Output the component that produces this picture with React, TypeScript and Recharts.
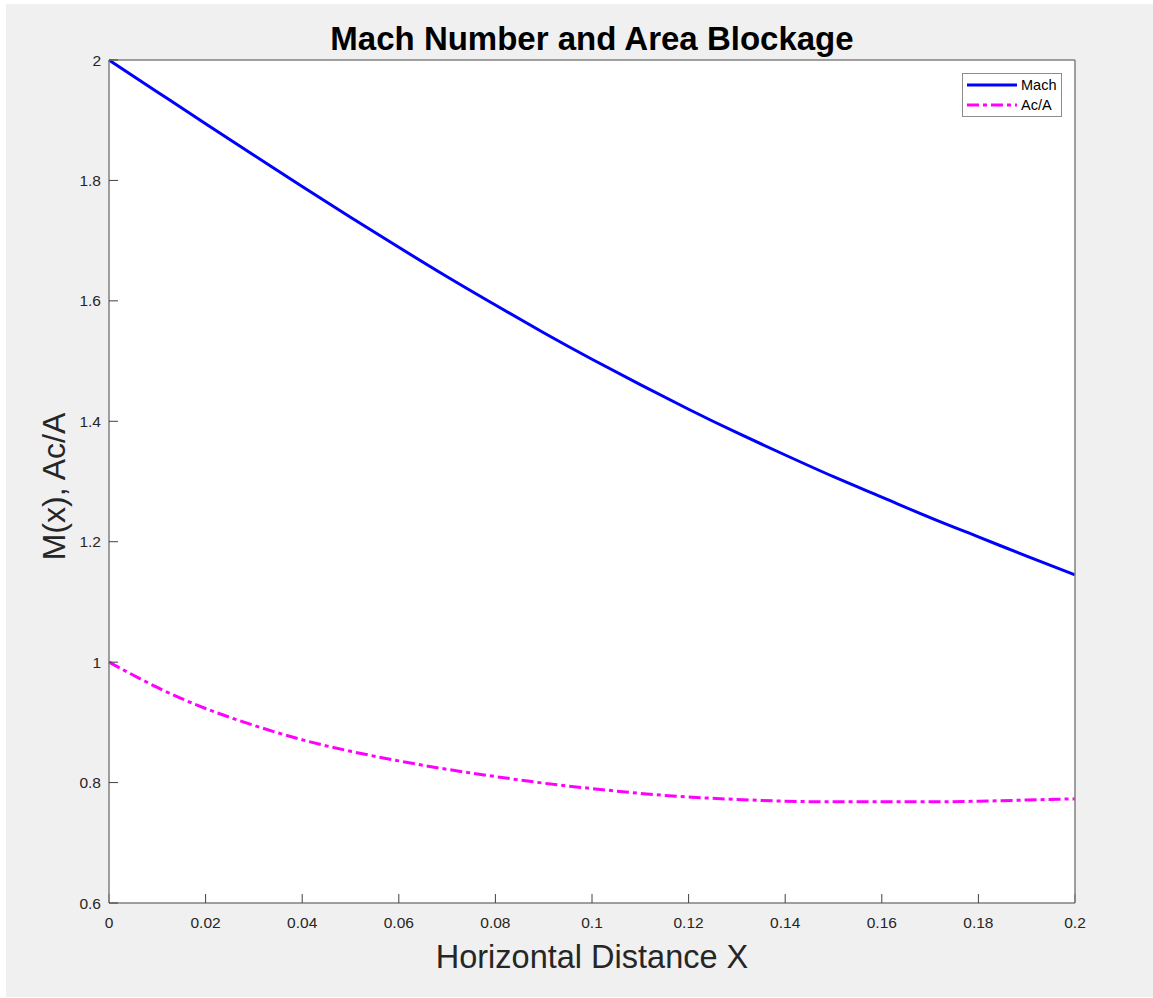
import { LineChart, Line, XAxis, YAxis, ReferenceArea, Legend } from "recharts";

const FONT = '"Liberation Sans", Arial, Helvetica, sans-serif';

// horizontal distance samples
const xs = [
  0, 0.01, 0.02, 0.03, 0.04, 0.05, 0.06, 0.07, 0.08, 0.09, 0.1, 0.11, 0.12,
  0.13, 0.14, 0.15, 0.16, 0.17, 0.18, 0.19, 0.2,
];

// M(x)
const machValues = [
  2.0, 1.947, 1.894, 1.842, 1.79, 1.739, 1.689, 1.64, 1.593, 1.547, 1.503,
  1.461, 1.42, 1.381, 1.344, 1.308, 1.274, 1.24, 1.208, 1.176, 1.145,
];

// Ac/A
const areaRatio = [
  1.0, 0.958, 0.923, 0.895, 0.871, 0.852, 0.836, 0.822, 0.81, 0.799, 0.79,
  0.782, 0.776, 0.772, 0.769, 0.768, 0.768, 0.768, 0.769, 0.771, 0.773,
];

const xTicks = [0, 0.02, 0.04, 0.06, 0.08, 0.1, 0.12, 0.14, 0.16, 0.18, 0.2];
const yTicks = [0.6, 0.8, 1, 1.2, 1.4, 1.6, 1.8, 2];

// legend order as plotted
const seriesOrder = ["Mach", "Ac/A"];

const data = xs.map((x, i) => ({ x, mach: machValues[i], acA: areaRatio[i] }));

const AXIS = { stroke: "#808080", strokeWidth: 1.5 };
const TICKLINE = { stroke: "#404040", strokeWidth: 1 };
const TICK = { fill: "#262626", fontSize: 15.5, fontFamily: FONT };

function TitleLabel(props: any) {
  const vb = props.viewBox ?? { x: 109, y: 59, width: 966, height: 1 };
  return (
    <text
      x={vb.x + vb.width / 2}
      y={50}
      textAnchor="middle"
      fontFamily={FONT}
      fontWeight="bold"
      fontSize={33}
      fill="#000"
    >
      Mach Number and Area Blockage
    </text>
  );
}

function XLabel(props: any) {
  const vb = props.viewBox ?? { x: 109, y: 903, width: 966, height: 95 };
  return (
    <text
      x={vb.x + vb.width / 2}
      y={vb.y + 65}
      textAnchor="middle"
      fontFamily={FONT}
      fontSize={32.5}
      fill="#262626"
    >
      Horizontal Distance X
    </text>
  );
}

function YLabel(props: any) {
  const vb = props.viewBox ?? { x: 0, y: 60, width: 109, height: 843 };
  const cx = vb.x + 65;
  const cy = vb.y + vb.height / 2 + 5;
  return (
    <text
      x={cx}
      y={cy}
      transform={`rotate(-90 ${cx} ${cy})`}
      textAnchor="middle"
      fontFamily={FONT}
      fontSize={32}
      fill="#262626"
    >
      M(x), Ac/A
    </text>
  );
}

function LegendBox(props: any) {
  const items = [...(props.payload ?? [])].sort(
    (a: any, b: any) => seriesOrder.indexOf(a.value) - seriesOrder.indexOf(b.value)
  );
  return (
    <div
      style={{
        width: 100,
        height: 44,
        boxSizing: "border-box",
        border: "1px solid #8c8c8c",
        background: "#fff",
        padding: "1px 0 0 3px",
      }}
    >
      {items.map((p: any) => (
        <div
          key={p.value}
          style={{ display: "flex", alignItems: "center", height: 20 }}
        >
          <svg width={52} height={10}>
            <line
              x1={1}
              x2={51}
              y1={5}
              y2={5}
              stroke={p.color}
              strokeWidth={3}
              strokeDasharray={p.payload?.strokeDasharray}
            />
          </svg>
          <span
            style={{
              marginLeft: 3,
              fontSize: 14.5,
              fontFamily: FONT,
              color: "#000",
              lineHeight: "20px",
            }}
          >
            {p.value}
          </span>
        </div>
      ))}
    </div>
  );
}

export default function App() {
  return (
    <div
      style={{
        position: "absolute",
        left: 0,
        top: 0,
        width: 1153,
        height: 998,
        background: "#fff",
      }}
    >
      <div
        style={{
          position: "absolute",
          left: 6,
          top: 4,
          right: 0,
          bottom: 1,
          background: "#f0f0f0",
        }}
      />
      <div style={{ position: "absolute", left: 0, top: 0 }}>
        <LineChart
          width={1153}
          height={998}
          data={data}
          margin={{ top: 59, right: 77, bottom: 0, left: 0 }}
        >
          <XAxis
            dataKey="x"
            type="number"
            domain={[0, 0.2]}
            ticks={xTicks}
            interval={0}
            height={95}
            tickSize={-9}
            tickMargin={23}
            axisLine={AXIS}
            tickLine={TICKLINE}
            tick={TICK}
            label={<XLabel />}
          />
          <XAxis
            xAxisId="top"
            orientation="top"
            dataKey="x"
            type="number"
            domain={[0, 0.2]}
            ticks={xTicks}
            interval={0}
            height={1}
            tickSize={-9}
            axisLine={AXIS}
            tickLine={TICKLINE}
            tick={false}
            allowDataOverflow
            label={<TitleLabel />}
          />
          <YAxis
            type="number"
            domain={[0.6, 2]}
            ticks={yTicks}
            interval={0}
            width={109}
            tickSize={-9}
            tickMargin={17}
            axisLine={AXIS}
            tickLine={TICKLINE}
            tick={TICK}
            label={<YLabel />}
          />
          <YAxis
            yAxisId="right"
            orientation="right"
            type="number"
            domain={[0.6, 2]}
            ticks={yTicks}
            interval={0}
            width={1}
            tickSize={-9}
            axisLine={AXIS}
            tickLine={TICKLINE}
            tick={false}
            allowDataOverflow
          />
          <ReferenceArea
            x1={0}
            x2={0.2}
            y1={0.6}
            y2={2}
            fill="#fff"
            fillOpacity={1}
            stroke="none"
          />
          <Legend
            layout="vertical"
            align="center"
            verticalAlign="middle"
            wrapperStyle={{ top: 73, left: 962, width: 100 }}
            content={<LegendBox />}
          />
          <Line
            dataKey="mach"
            name="Mach"
            type="natural"
            stroke="#0000ff"
            strokeWidth={3}
            dot={false}
            activeDot={false}
            isAnimationActive={false}
          />
          <Line
            dataKey="acA"
            name="Ac/A"
            type="natural"
            stroke="#ff00ff"
            strokeWidth={3}
            strokeDasharray="12 4 4 4"
            dot={false}
            activeDot={false}
            isAnimationActive={false}
          />
        </LineChart>
      </div>
    </div>
  );
}
